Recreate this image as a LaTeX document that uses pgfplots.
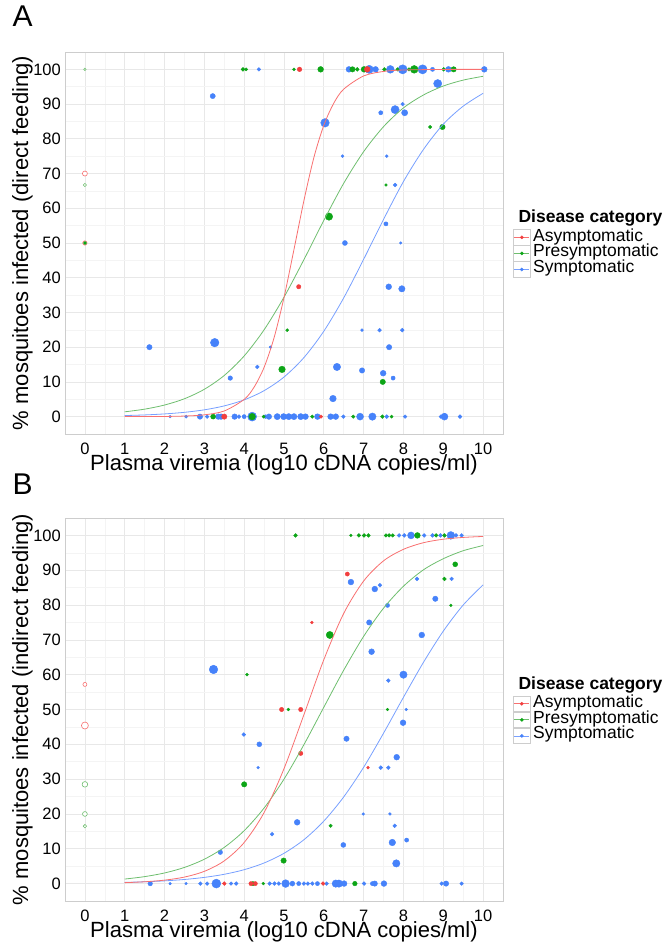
\documentclass[border=0pt]{standalone}
\usepackage{fontspec}
\setmainfont{Liberation Sans}
\usepackage{graphicx}
\usepackage{pgfplots}
\usepackage{pgfplotstable}
\pgfplotsset{compat=1.18}

\definecolor{cred}{RGB}{242,62,62}
\definecolor{cgreen}{RGB}{12,165,22}
\definecolor{cblue}{RGB}{70,130,250}
\definecolor{lred}{RGB}{248,112,112}
\definecolor{lgreen}{RGB}{110,190,110}
\definecolor{lblue}{RGB}{120,160,255}
\definecolor{gridmaj}{RGB}{232,232,232}
\definecolor{gridmin}{RGB}{244,244,244}
\definecolor{framecol}{RGB}{205,205,205}

% ---- panel A (direct feeding): x y size ----
\pgfplotstableread{
x y s
5.39 100 2.0
7.09 100 2.6
5.37 37.4 1.9
3.50 0 2.4
5.93 0 1.5
}\redA
\pgfplotstableread{
x y s
0 70 2.3
0 50 2.0
}\redAopen
\pgfplotstableread{
x y s
0 50 1.3
3.97 100 1.6
4.05 100 1.3
5.25 100 1.2
5.92 100 2.6
6.72 100 2.4
6.84 100 1.6
7.01 100 2.6
7.52 100 1.6
7.85 100 1.4
8.14 100 1.4
8.27 100 3.6
9.01 100 1.6
9.26 100 2.4
8.67 83.4 1.4
8.98 83.4 2.4
7.56 66.7 1.1
6.13 57.6 3.4
5.08 24.9 1.2
4.95 13.6 3.0
7.48 10.0 2.4
3.22 0 2.2
4.20 0 3.0
4.49 0 1.3
5.71 0 1.5
6.74 0 1.5
7.47 0 1.6
7.70 0 1.3
}\greenA
\pgfplotstableread{
x y s
0 100 1.0
0 66.7 1.4
}\greenAopen
\pgfplotstableread{
x y s
4.37 100 1.5
6.63 100 2.6
7.14 100 3.8
7.30 100 2.6
7.67 100 3.6
7.98 100 4.3
8.48 100 4.3
8.73 100 1.8
9.13 100 2.6
10.03 100 2.6
3.21 92.3 2.3
6.03 84.6 4.0
8.86 95.9 3.8
7.79 88.4 3.8
7.98 90.0 1.5
8.03 87.5 2.8
7.43 87.5 1.8
6.47 75.0 1.2
7.58 75.0 1.2
7.79 66.7 1.6
6.53 50.0 2.2
7.93 50.0 1.0
7.56 55.5 1.8
7.63 37.4 2.6
7.96 36.8 2.9
6.96 24.9 1.2
7.40 24.9 1.6
7.97 24.9 1.6
7.64 20.0 2.4
6.33 14.3 3.4
6.96 13.3 2.4
7.49 12.5 2.6
7.74 11.1 1.8
6.23 5.2 3.0
1.62 20.0 2.4
3.26 21.3 4.0
4.66 20.0 1.1
4.33 14.3 1.6
3.65 11.1 2.0
2.14 0 1.0
2.54 0 1.3
2.89 0 2.4
3.07 0 1.6
3.35 0 2.5
3.42 0 2.5
3.76 0 2.5
3.87 0 1.6
4.00 0 1.8
4.20 0 4.2
4.53 0 1.6
4.62 0 2.5
4.83 0 2.8
4.99 0 2.8
5.12 0 2.8
5.25 0 2.8
5.42 0 2.8
5.54 0 2.6
5.84 0 2.6
6.17 0 2.6
6.30 0 2.6
6.49 0 1.6
6.91 0 3.2
7.22 0 3.4
7.58 0 1.6
8.04 0 1.5
8.94 0 1.6
9.03 0 3.2
9.42 0 1.6
}\blueA

% fitted curves, panel A
\pgfplotstableread{
x y
1 0.01
1.5 0.02
2 0.05
2.5 0.17
3 0.52
3.5 1.63
4 4.97
4.25 8.51
4.5 14.19
4.75 22.7
5 34.3
5.25 48.1
5.5 62.2
5.75 74.6
6 83.9
6.25 90.25
6.5 94.3
7 98.1
7.5 99.4
8 99.81
9 99.98
10 100
}\fitredA
\pgfplotstableread{
x y
1 1.38
1.5 2.15
2 3.34
2.5 5.15
3 7.88
3.5 11.86
4 17.48
4.5 25.0
5 34.4
5.5 45.2
6 56.5
6.5 67.2
7 76.3
7.5 83.5
8 88.9
8.5 92.6
9 95.2
9.5 96.9
10 98.0
}\fitgreenA
\pgfplotstableread{
x y
1 0.31
1.5 0.49
2 0.78
2.5 1.24
3 1.96
3.5 3.09
4 4.83
4.5 7.48
5 11.4
5.5 17.0
6 24.6
6.5 34.2
7 45.3
7.5 56.8
8 67.7
8.5 76.9
9 84.2
9.5 89.4
10 93.1
}\fitblueA

% ---- panel B (indirect feeding) ----
\pgfplotstableread{
x y s
6.59 88.9 1.8
5.70 75.0 1.1
4.94 50.0 1.9
5.42 50.0 1.9
5.42 37.4 1.9
7.11 33.3 1.1
3.50 0 1.6
4.17 0 1.8
4.28 0 1.8
5.98 0 1.6
}\redB
\pgfplotstableread{
x y s
0 57.2 1.8
0 45.4 3.3
}\redBopen
\pgfplotstableread{
x y s
5.29 100 1.6
6.68 100 1.1
6.88 100 1.6
7.01 100 1.6
7.12 100 1.6
7.56 100 1.5
7.64 100 1.5
7.73 100 1.5
8.35 100 2.6
8.82 100 1.6
9.03 100 1.6
4.07 60.0 1.2
6.15 71.4 3.3
5.11 50.0 1.1
7.60 50.0 1.0
9.03 87.5 1.6
9.30 91.7 2.2
9.19 79.9 1.1
4.00 28.5 2.4
4.99 6.6 2.4
6.17 16.6 1.4
4.22 0 1.8
4.48 0 1.1
6.78 0 2.0
}\greenB
\pgfplotstableread{
x y s
0 28.5 2.6
0 20.0 2.2
0 16.5 1.5
}\greenBopen
\pgfplotstableread{
x y s
7.89 100 1.6
8.02 100 1.6
8.19 100 3.2
8.52 100 1.6
8.73 100 1.6
8.93 100 1.6
9.19 100 3.6
9.32 100 1.6
9.46 100 1.6
6.68 86.6 2.6
7.28 84.6 2.6
7.41 85.7 1.6
8.34 87.5 1.6
9.21 87.5 1.6
7.60 79.9 1.8
8.80 81.8 2.4
7.14 75.0 2.4
8.46 71.4 2.6
7.20 66.6 2.6
7.62 58.3 1.6
8.00 60.0 3.4
8.07 50.0 1.0
3.23 61.5 4.0
7.99 46.2 2.6
6.57 41.6 2.4
7.83 36.3 2.6
7.43 33.3 1.6
7.62 33.3 1.6
6.99 20.0 1.1
7.66 20.0 1.1
7.78 16.6 1.6
8.08 12.5 1.8
6.49 11.1 2.2
7.72 11.8 3.0
7.82 5.8 3.4
3.99 42.8 1.6
4.38 40.0 2.2
4.35 33.3 1.1
4.70 14.2 1.6
5.33 17.6 2.6
3.40 9.0 2.0
1.64 0 2.0
2.14 0 1.0
2.54 0 1.0
2.90 0 1.6
3.07 0 1.6
3.30 0 4.2
3.67 0 1.5
3.80 0 1.6
4.64 0 1.6
4.76 0 1.6
4.87 0 1.6
5.04 0 3.6
5.21 0 2.2
5.37 0 1.8
5.50 0 1.6
5.60 0 1.6
5.71 0 1.6
5.84 0 1.8
6.07 0 1.6
6.30 0 3.4
6.38 0 3.4
6.51 0 2.6
7.01 0 1.6
7.22 0 1.8
7.28 0 2.4
7.51 0 2.6
8.96 0 1.6
9.07 0 2.4
9.46 0 1.5
}\blueB

\pgfplotstableread{
x y
1 0.27
1.5 0.52
2 0.99
2.5 1.87
3 3.52
3.5 6.53
4 11.8
4.5 20.4
5 33.0
5.5 48.5
6 64.3
6.5 77.6
7 86.9
7.5 92.7
8 96.0
8.5 97.9
9 98.9
9.5 99.42
10 99.7
}\fitredB
\pgfplotstableread{
x y
1 1.30
1.5 2.0
2 3.05
2.5 4.64
3 7.0
3.5 10.4
4 15.2
4.5 21.7
5 30.0
5.5 39.9
6 50.65
6.5 61.3
7 71.0
7.5 79.1
8 85.4
8.5 90.1
9 93.3
9.5 95.6
10 97.1
}\fitgreenB
\pgfplotstableread{
x y
1 0.34
1.5 0.52
2 0.78
2.5 1.18
3 1.78
3.5 2.67
4 3.99
4.5 5.92
5 8.70
5.5 12.6
6 17.95
6.5 24.9
7 33.4
7.5 43.2
8 53.5
8.5 63.5
9 72.5
9.5 80.0
10 85.8
}\fitblueB

\newcommand\titlefont{\fontsize{17.5}{18}\selectfont\bfseries}
% text set at 22pt and scaled down
\newcommand\keytext[1]{\scalebox{0.795}{\fontsize{22}{22}\selectfont #1}}
\newcommand\ticktext[1]{\scalebox{0.75}{\fontsize{22}{22}\selectfont #1}}
\newcommand\keyimg[2]{\addlegendimage{legend image code/.code={
  \draw[framecol, line width=0.6pt, fill=white] (0pt,-7.75pt) rectangle (16.5pt,7.75pt);
  \draw[#1, line width=0.8pt] (0.8pt,0pt) -- (15.7pt,0pt);
  \fill[#2] (8.25pt,0pt) circle (1.6pt);}}}
% legend: key boxes from pgfplots, texts set beside them
\newcommand\keytexts{%
  \node[anchor=base west, font=\titlefont]
    at (axis description cs:1.0274,0.553) {Disease category};
  \node[anchor=base west, inner sep=0pt]
    at (axis description cs:1.0685,0.5040) {\keytext{Asymptomatic}};
  \node[anchor=base west, inner sep=0pt]
    at (axis description cs:1.0685,0.4635) {\keytext{Presymptomatic}};
  \node[anchor=base west, inner sep=0pt]
    at (axis description cs:1.0685,0.4230) {\keytext{Symptomatic}};}

\pgfplotsset{
  panel/.style={
    scale only axis, width=438pt, height=382pt,
    clip mode=individual,
    xmin=-0.5, xmax=10.5, ymin=-5, ymax=105,
    xtick={0,...,10}, ytick={0,10,...,100},
    minor xtick={0.5,1.5,...,9.5}, minor ytick={5,15,...,95},
    grid=both,
    major grid style={draw=gridmaj, line width=0.7pt},
    minor grid style={draw=gridmin, line width=0.5pt},
    axis line style={draw=framecol, line width=0.9pt},
    major tick length=0pt, minor tick length=0pt,
    /pgf/number format/assume math mode=true,
    xticklabel={\ticktext{\pgfmathprintnumber{\tick}}},
    yticklabel={\ticktext{\pgfmathprintnumber{\tick}}},
    ticklabel style={inner sep=0pt},
    xticklabel style={yshift=-9pt},
    yticklabel style={xshift=-4pt},
    label style={font=\fontsize{22}{22}\selectfont},
    xlabel style={at={(axis description cs:0.5,-0.080)}, anchor=center},
    ylabel style={at={(axis description cs:-0.097,0.5)}, anchor=center},
    xlabel={Plasma viremia (log10 cDNA copies/ml)},
    legend style={at={(axis description cs:1.0235,0.536)}, anchor=north west,
      draw=none, fill=none, inner sep=0pt, outer sep=0pt,
      row sep=0pt, nodes={inner sep=0pt}},
  },
  dots/.style={scatter, only marks, mark=*, forget plot,
    scatter/use mapped color={draw=#1, fill=#1},
    visualization depends on={\thisrow{s}+0.3 \as \msz},
    scatter/@pre marker code/.append style={/tikz/mark size=\msz}},
  hollow/.style={scatter, only marks, mark=*, forget plot,
    mark options={line width=0.6pt},
    scatter/use mapped color={draw=#1, fill=white},
    visualization depends on={\thisrow{s}+0.2 \as \msz},
    scatter/@pre marker code/.append style={/tikz/mark size=\msz}},
  fit/.style={#1, line width=0.8pt, smooth, no marks, forget plot},
}

\begin{document}
\begin{tikzpicture}
\path[use as bounding box] (0pt,0pt) rectangle (665pt,942pt);

\begin{axis}[panel, at={(65pt,508pt)}, anchor=south west,
  ylabel={\% mosquitoes infected (direct feeding)}]
  \keyimg{lred}{cred}\addlegendentry{}
  \keyimg{lgreen}{cgreen}\addlegendentry{}
  \keyimg{lblue}{cblue}\addlegendentry{}
  \addplot[hollow=lred] table[x=x, y=y] {\redAopen};
  \addplot[hollow=lgreen] table[x=x, y=y] {\greenAopen};
  \addplot[dots=cblue] table[x=x, y=y] {\blueA};
  \addplot[dots=cgreen] table[x=x, y=y] {\greenA};
  \addplot[dots=cred] table[x=x, y=y] {\redA};
  \addplot[fit=lblue] table[x=x, y=y] {\fitblueA};
  \addplot[fit=lgreen] table[x=x, y=y] {\fitgreenA};
  \addplot[fit=lred] table[x=x, y=y] {\fitredA};
  \keytexts
\end{axis}

\begin{axis}[panel, at={(65pt,41pt)}, anchor=south west, height=383pt,
  ylabel={\% mosquitoes infected (indirect feeding)}]
  \keyimg{lred}{cred}\addlegendentry{}
  \keyimg{lgreen}{cgreen}\addlegendentry{}
  \keyimg{lblue}{cblue}\addlegendentry{}
  \addplot[hollow=lred] table[x=x, y=y] {\redBopen};
  \addplot[hollow=lgreen] table[x=x, y=y] {\greenBopen};
  \addplot[dots=cblue] table[x=x, y=y] {\blueB};
  \addplot[dots=cgreen] table[x=x, y=y] {\greenB};
  \addplot[dots=cred] table[x=x, y=y] {\redB};
  \addplot[fit=lblue] table[x=x, y=y] {\fitblueB};
  \addplot[fit=lgreen] table[x=x, y=y] {\fitgreenB};
  \addplot[fit=lred] table[x=x, y=y] {\fitredB};
  \keytexts
\end{axis}

\node[anchor=base west, font=\fontsize{30}{30}\selectfont] at (9pt,915pt) {A};
\node[anchor=base west, font=\fontsize{30}{30}\selectfont] at (9pt,447pt) {B};
\end{tikzpicture}
\end{document}
